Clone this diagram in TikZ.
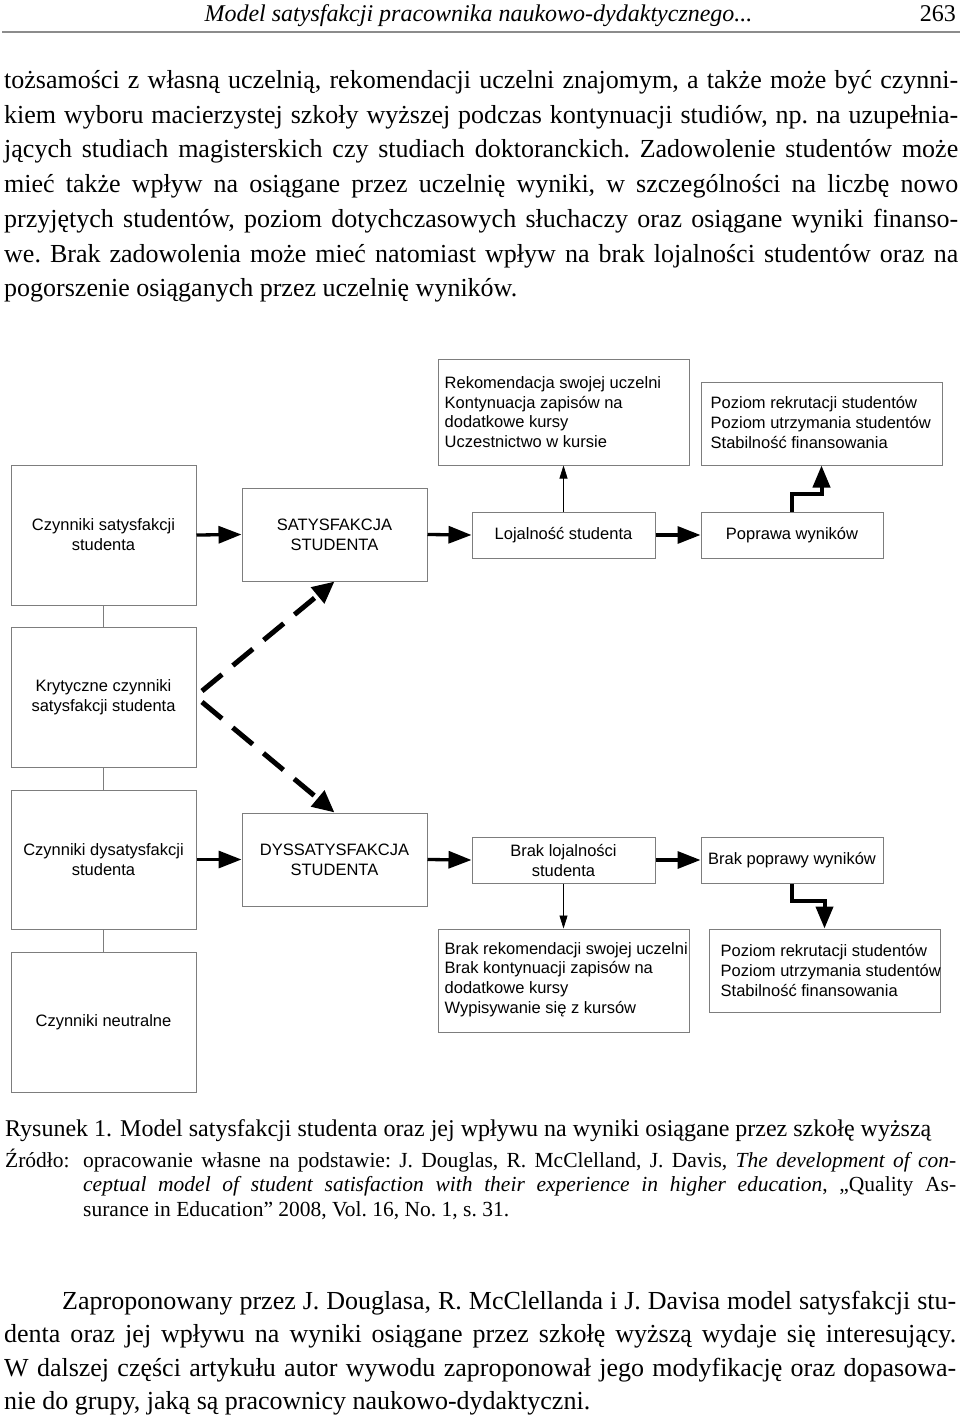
\documentclass[tikz,border=0pt]{standalone}
\usepackage{fontspec}
\setmainfont{Liberation Serif}
\newfontfamily\diagfont{Liberation Sans}
\usetikzlibrary{arrows.meta}
\definecolor{boxgray}{RGB}{125,125,125}
\definecolor{rulegray}{RGB}{140,140,140}
\newcommand\bodyf{\fontsize{26}{34}\selectfont}
\newcommand\capf{\fontsize{24}{30}\selectfont}
\newcommand\srcf{\fontsize{21.5}{25}\selectfont}
\newcommand\jline[2]{\makebox[#1pt][s]{#2}}
\frenchspacing
\begin{document}
\begin{tikzpicture}[x=1pt,y=-1pt,
  box/.style={draw=boxgray, line width=1pt, rectangle, inner sep=0pt,
    font=\diagfont\fontsize{16.5}{20}\selectfont, align=center},
  listtext/.style={inner sep=0pt, anchor=west, align=left,
    font=\diagfont\fontsize{16.5}{19.7}\selectfont},
  txt/.style={inner sep=0pt},
  conn/.style={draw=boxgray, line width=1pt},
  thickarrow/.style={line width=3.3pt, -{Triangle[length=23pt,width=17pt]}},
  thinarrow/.style={line width=0.8pt, -{Triangle[length=13pt,width=8pt]}},
  steparrow/.style={line width=4pt, -{Triangle[length=22pt,width=17pt]}},
  dasharrow/.style={line width=5pt, dash pattern=on 26pt off 14pt,
    -{Triangle[length=22pt,width=20pt]}}
]
\useasboundingbox (0,0) rectangle (960,1423);
\fill[white] (0,0) rectangle (960,1423);

% header
\node[txt, anchor=base] (head) at (478.5,22) {\fontsize{24}{28}\selectfont\itshape Model satysfakcji pracownika naukowo-dydaktycznego...};
\node[txt, anchor=base east] (pnum) at (956,22) {\fontsize{24}{28}\selectfont 263};
\draw[rulegray, line width=2pt] (2,32) -- (960,32);

% body text
\node[txt, anchor=base west] (b1) at (4,89) {\bodyf\jline{954}{tożsamości z własną uczelnią, rekomendacji uczelni znajomym, a także może być czynni-}};
\node[txt, anchor=base west] (b2) at (4,124) {\bodyf\jline{954}{kiem wyboru macierzystej szkoły wyższej podczas kontynuacji studiów, np. na uzupełnia-}};
\node[txt, anchor=base west] (b3) at (4,158) {\bodyf\jline{954}{jących studiach magisterskich czy studiach doktoranckich. Zadowolenie studentów może}};
\node[txt, anchor=base west] (b4) at (4,193) {\bodyf\jline{954}{mieć także wpływ na osiągane przez uczelnię wyniki, w szczególności na liczbę nowo}};
\node[txt, anchor=base west] (b5) at (4,228) {\bodyf\jline{954}{przyjętych studentów, poziom dotychczasowych słuchaczy oraz osiągane wyniki finanso-}};
\node[txt, anchor=base west] (b6) at (4,262) {\bodyf\jline{954}{we. Brak zadowolenia może mieć natomiast wpływ na brak lojalności studentów oraz na}};
\node[txt, anchor=base west] (b7) at (4,296) {\bodyf pogorszenie osiąganych przez uczelnię wyników.};

% diagram boxes
\node[box, minimum width=185pt, minimum height=140pt] (cs) at (103.5,535) {Czynniki satysfakcji\\studenta};
\node[box, minimum width=185pt, minimum height=140pt] (kr) at (103.5,697) {Krytyczne czynniki\\satysfakcji studenta};
\node[box, minimum width=185pt, minimum height=139pt] (cd) at (103.5,859.5) {Czynniki dysatysfakcji\\studenta};
\node[box, minimum width=185pt, minimum height=140pt] (cn) at (103.5,1022) {Czynniki neutralne};

\node[box, minimum width=185pt, minimum height=93pt] (sat) at (334.5,534.5) {SATYSFAKCJA\\STUDENTA};
\node[box, minimum width=185pt, minimum height=93pt] (dys) at (334.5,859.5) {DYSSATYSFAKCJA\\STUDENTA};

\node[box, minimum width=183pt, minimum height=46pt] (loj) at (563.5,535) {Lojalność studenta};
\node[box, minimum width=183pt, minimum height=46pt] (bloj) at (563.5,860) {Brak lojalności\\studenta};

\node[box, minimum width=182pt, minimum height=46pt] (pop) at (792,535) {Poprawa wyników};
\node[box, minimum width=182pt, minimum height=46pt] (bpop) at (792,860) {Brak poprawy wyników};

\node[box, minimum width=251pt, minimum height=106pt] (rek) at (563.5,412) {};
\node[listtext] (rekt) at ([xshift=7pt]rek.west) {Rekomendacja swojej uczelni\\Kontynuacja zapisów na\\dodatkowe kursy\\Uczestnictwo w kursie};

\node[box, minimum width=241pt, minimum height=83pt] (poz1) at (821.5,423.5) {};
\node[listtext] (poz1t) at ([xshift=10pt,yshift=1pt]poz1.west) {Poziom rekrutacji studentów\\Poziom utrzymania studentów\\Stabilność finansowania};

\node[box, minimum width=251pt, minimum height=103pt] (brek) at (563.5,980.5) {};
\node[listtext] (brekt) at ([xshift=7pt,yshift=1pt]brek.west) {Brak rekomendacji swojej uczelni\\Brak kontynuacji zapisów na\\dodatkowe kursy\\Wypisywanie się z kursów};

\node[box, minimum width=231pt, minimum height=83pt] (poz2) at (824.5,970.5) {};
\node[listtext] (poz2t) at ([xshift=12pt]poz2.west) {Poziom rekrutacji studentów\\Poziom utrzymania studentów\\Stabilność finansowania};

% connectors
\draw[conn] (cs.south) -- (kr.north);
\draw[conn] (kr.south) -- (cd.north);
\draw[conn] (cd.south) -- (cn.north);

\draw[thickarrow] (cs.east) -- (sat.west);
\draw[thickarrow] (sat.east) -- (loj.west);
\draw[thickarrow] (loj.east) -- (pop.west);
\draw[thickarrow] (cd.east) -- (dys.west);
\draw[thickarrow] (dys.east) -- (bloj.west);
\draw[thickarrow] (bloj.east) -- (bpop.west);

\draw[thinarrow] (loj.north) -- (rek.south);
\draw[thinarrow] (bloj.south) -- (brek.north);

\draw[steparrow] (pop.north) -- ++(0,-18) -| (poz1.south);
\draw[steparrow] (bpop.south) -- ++(0,17) -| (poz2.north);

\coordinate (d1) at (202,691);
\coordinate (d2) at (202,702);
\draw[dasharrow] (d1) -- (sat.south);
\draw[dasharrow] (d2) -- (dys.north);

% caption
\node[txt, anchor=base west] (cap1) at (5,1136) {\capf Rysunek 1.};
\node[txt, anchor=base west] (cap2) at (120,1136) {\capf Model satysfakcji studenta oraz jej wpływu na wyniki osiągane przez szkołę wyższą};
\node[txt, anchor=base west] (src0) at (5,1167) {\srcf Źródło:};
\node[txt, anchor=base west] (src1) at (83,1167) {\srcf\jline{873}{opracowanie własne na podstawie: J. Douglas, R. McClelland, J. Davis, \textit{The development of con-}}};
\node[txt, anchor=base west] (src2) at (83,1191) {\srcf\jline{873}{\textit{ceptual model of student satisfaction with their experience in higher education}, „Quality As-}};
\node[txt, anchor=base west] (src3) at (83,1216) {\srcf surance in Education” 2008, Vol. 16, No. 1, s. 31.};

% bottom paragraph
\node[txt, anchor=base west] (p1) at (62,1309) {\bodyf\jline{894}{Zaproponowany przez J. Douglasa, R. McClellanda i J. Davisa model satysfakcji stu-}};
\node[txt, anchor=base west] (p2) at (4,1342) {\bodyf\jline{952}{denta oraz jej wpływu na wyniki osiągane przez szkołę wyższą wydaje się interesujący.}};
\node[txt, anchor=base west] (p3) at (4,1376) {\bodyf\jline{952}{W dalszej części artykułu autor wywodu zaproponował jego modyfikację oraz dopasowa-}};
\node[txt, anchor=base west] (p4) at (4,1409) {\bodyf nie do grupy, jaką są pracownicy naukowo-dydaktyczni.};
\end{tikzpicture}
\end{document}
